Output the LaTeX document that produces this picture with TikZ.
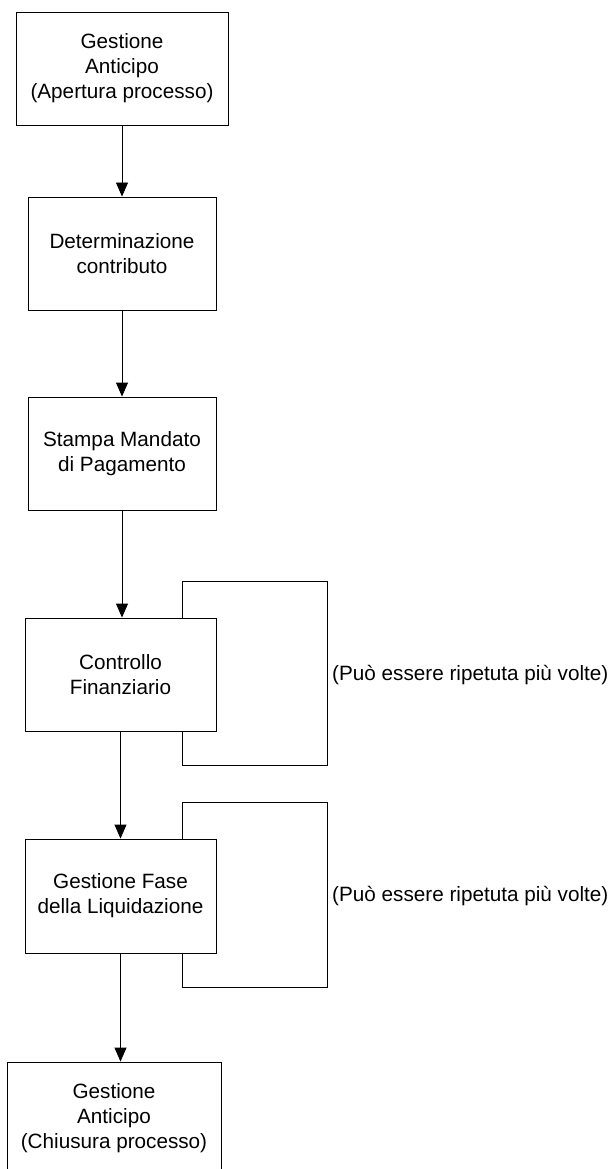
\documentclass[tikz,border=0pt]{standalone}
\usepackage{fontspec}
\setmainfont{Liberation Sans}
\usetikzlibrary{arrows.meta}
\tikzset{
  box/.style={draw=black, line width=0.9pt, inner sep=0pt, align=center,
    font=\fontsize{20.7}{25}\selectfont},
  flow/.style={draw=black, line width=0.9pt, -{Triangle[length=14pt,width=12pt]}},
  loopline/.style={draw=black, line width=0.9pt},
  note/.style={inner sep=0pt, anchor=west, font=\fontsize{20.7}{25}\selectfont}
}
\begin{document}
\begin{tikzpicture}[x=1pt,y=1pt]
\clip (0,0) rectangle (615,-1169);
\fill[white] (0,0) rectangle (615,-1169);
\node[box, minimum width=212pt, minimum height=113pt] (b1) at (122,-68.5) {Gestione\\Anticipo\\(Apertura processo)};
\node[box, minimum width=188pt, minimum height=113pt] (b2) at (122,-253.5) {Determinazione\\contributo};
\node[box, minimum width=188pt, minimum height=113pt] (b3) at (122,-453.5) {Stampa Mandato\\di Pagamento};
\node[box, minimum width=191pt, minimum height=113pt] (b4) at (120.5,-674.5) {Controllo\\Finanziario};
\node[box, minimum width=191pt, minimum height=114pt] (b5) at (120.5,-896) {Gestione Fase\\della Liquidazione};
\node[box, minimum width=214pt, minimum height=113pt] (b6) at (114,-1118.5) {Gestione\\Anticipo\\(Chiusura processo)};
\node[note] (n1) at (332,-675) {(Può essere ripetuta più volte)};
\node[note] (n2) at (332,-896) {(Può essere ripetuta più volte)};
\coordinate (c1) at (182,-581);
\coordinate (c2) at (327,-765);
\coordinate (d1) at (182,-802);
\coordinate (d2) at (327,-987);
\draw[flow] (b1.south) -- (b2.north);
\draw[flow] (b2.south) -- (b3.north);
\draw[flow] (b3.south) -- (b3.south |- b4.north);
\draw[flow] (b4.south) -- (b5.north);
\draw[flow] (b5.south) -- (b5.south |- b6.north);
\draw[loopline] (b4.north -| c1) -- (c1) -| (c2) -| (b4.south -| c1);
\draw[loopline] (b5.north -| d1) -- (d1) -| (d2) -| (b5.south -| d1);
\end{tikzpicture}
\end{document}
